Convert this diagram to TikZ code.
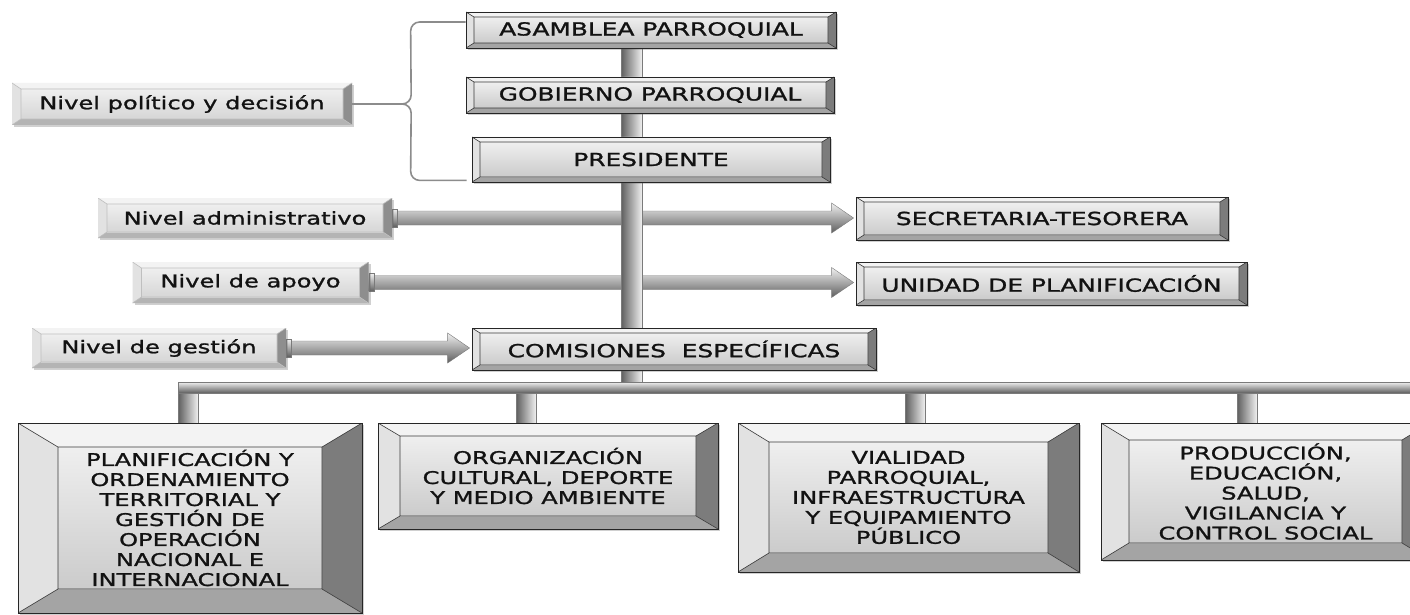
\documentclass[tikz,border=0pt]{standalone}
\usepackage{fontspec}
\setmainfont{DejaVu Sans}[FakeStretch=1.38,FakeBold=1.3]
\usetikzlibrary{calc,shadows}
\definecolor{txt}{HTML}{121212}
\definecolor{bvtop}{HTML}{F3F3F3}
\definecolor{bvleft}{HTML}{E2E2E2}
\definecolor{bvright}{HTML}{7C7C7C}
\definecolor{bvbot}{HTML}{A4A4A4}
\definecolor{facetop}{HTML}{EFEFEF}
\definecolor{facebot}{HTML}{CBCBCB}
\definecolor{bvline}{HTML}{3A3A3A}
\definecolor{sbvright}{HTML}{8E8E8E}
\definecolor{sbvbot}{HTML}{B4B4B4}
\definecolor{sfacebot}{HTML}{D6D6D6}
\definecolor{pipedark}{HTML}{5E5E5E}
\definecolor{pipelight}{HTML}{F0F0F0}
\definecolor{pipeline}{HTML}{7A7A7A}
\definecolor{bracecol}{HTML}{8C8C8C}
\pgfdeclarelayer{background}
\pgfdeclarelayer{arrows}
\pgfdeclarelayer{pipes}
\pgfsetlayers{background,arrows,pipes,main}
% #1 bx #2 by #3 top #4 left #5 right #6 bottom #7 facetop #8 facebot #9 line colour
\newcommand\bevpic[9]{%
  \path (path picture bounding box.north west) coordinate (q1)
        (path picture bounding box.north east) coordinate (q2)
        (path picture bounding box.south east) coordinate (q3)
        (path picture bounding box.south west) coordinate (q4);
  \path (q1) ++(#1pt,-#2pt) coordinate (i1)
        (q2) ++(-#1pt,-#2pt) coordinate (i2)
        (q3) ++(-#1pt,#2pt) coordinate (i3)
        (q4) ++(#1pt,#2pt) coordinate (i4);
  \fill[#3] (q1)--(q2)--(i2)--(i1)--cycle;
  \fill[#4] (q1)--(i1)--(i4)--(q4)--cycle;
  \fill[#5] (q2)--(q3)--(i3)--(i2)--cycle;
  \fill[#6] (q4)--(i4)--(i3)--(q3)--cycle;
  \shade[top color=#7,bottom color=#8] (i1) rectangle (i3);
  \draw[#9,line width=0.6pt] (q1)--(i1) (q2)--(i2) (q3)--(i3) (q4)--(i4) (i1) rectangle (i3);
}
\newcommand\bigarrow[2]{%
  \shadedraw[top color=pipelight,bottom color=pipedark,draw=pipeline,line width=0.4pt]
    let \p1=(#1.east), \p2=(#2.west) in
    (\x1+4pt,\y1+7pt) -- (\x2-24pt,\y1+7pt) -- (\x2-24pt,\y1+15pt) -- (\x2-2pt,\y1)
    -- (\x2-24pt,\y1-15pt) -- (\x2-24pt,\y1-7pt) -- (\x1+4pt,\y1-7pt) -- cycle;
  \shadedraw[top color=pipelight,bottom color=pipedark,draw=pipeline,line width=0.4pt]
    let \p1=(#1.east) in (\x1,\y1+9pt) rectangle (\x1+5pt,\y1-9pt);
}
\begin{document}
\begin{tikzpicture}[x=1pt,y=-1pt,
  base/.style={inner sep=0pt,text=txt,align=center},
  shad/.style={drop shadow={shadow xshift=2pt,shadow yshift=-2pt,opacity=.3,fill=black!60}},
  obox/.style 2 args={base,shad,draw=black!85,line width=0.8pt,
     path picture={\bevpic{#1}{#2}{bvtop}{bvleft}{bvright}{bvbot}{facetop}{facebot}{bvline}}},
  nbox/.style={base,shad,font=\fontsize{17.5}{20}\selectfont,
     path picture={\bevpic{9}{6}{bvtop}{bvleft}{sbvright}{sbvbot}{facetop}{sfacebot}{black!25}}},
  topf/.style={font=\fontsize{18}{20}\selectfont},
  botf/.style={font=\fontsize{17.5}{20}\selectfont},
  pipev/.style={left color=pipedark,right color=pipelight,draw=pipeline,line width=0.4pt},
  pipeh/.style={top color=pipelight,bottom color=pipedark,draw=pipeline,line width=0.4pt},
  brace/.style={draw=bracecol,line width=1.6pt,rounded corners=9pt}]
\useasboundingbox (0,0) rectangle (1410,615);
\begin{pgfonlayer}{background}
  \fill[white] (0,0) rectangle (1410,615);
\end{pgfonlayer}

% top column
\node[obox={8}{5},topf,minimum width=370pt,minimum height=36pt] (asamblea) at (651,30) {ASAMBLEA PARROQUIAL};
\node[obox={8}{5},topf,minimum width=368pt,minimum height=36pt] (gobierno) at (650,95) {GOBIERNO PARROQUIAL};
\node[obox={8}{5},topf,minimum width=358pt,minimum height=45pt] (presidente) at (651,159.5) {PRESIDENTE};

% levels
\node[nbox,minimum width=340pt,minimum height=42pt] (npol) at (182,104) {Nivel político y decisión};
\node[nbox,minimum width=294pt,minimum height=40pt] (nadm) at (245,218) {Nivel administrativo};
\node[nbox,minimum width=236pt,minimum height=41pt] (napo) at (250.5,282.5) {Nivel de apoyo};
\node[nbox,minimum width=254pt,minimum height=40pt] (nges) at (159,348) {Nivel de gestión};

% right side and commissions
\node[obox={8}{5},topf,minimum width=372pt,minimum height=43pt] (secre) at (1042,218.5) {SECRETARIA-TESORERA};
\node[obox={8}{5},topf,minimum width=391pt,minimum height=43pt] (unidad) at (1051.5,283.5) {UNIDAD DE PLANIFICACIÓN};
\node[obox={8}{5},topf,minimum width=404pt,minimum height=42pt] (comis) at (674,349) {COMISIONES\ \ ESPECÍFICAS};

% bottom boxes
\node[obox={40}{24},botf,minimum width=344pt,minimum height=190pt] (b1) at (190,518)
  {PLANIFICACIÓN Y\\ORDENAMIENTO\\TERRITORIAL Y\\GESTIÓN DE\\OPERACIÓN\\NACIONAL E\\INTERNACIONAL};
\node[obox={22}{13},botf,minimum width=340pt,minimum height=106pt] (b2) at (548,476)
  {ORGANIZACIÓN\\CULTURAL, DEPORTE\\Y MEDIO AMBIENTE};
\node[obox={31}{19},botf,minimum width=341pt,minimum height=149pt] (b3) at (908.5,497.5)
  {VIALIDAD\\PARROQUIAL,\\INFRAESTRUCTURA\\Y EQUIPAMIENTO\\PÚBLICO};
\node[obox={28}{17},botf,minimum width=329pt,minimum height=137pt] (b4) at (1265.5,491.5)
  {PRODUCCIÓN,\\EDUCACIÓN,\\SALUD,\\VIGILANCIA Y\\CONTROL SOCIAL};

% named points of the pipes
\coordinate (tk) at (631.5,388);
\coordinate (busL) at (178,382);
\coordinate (busR) at (1420,393);
\coordinate (d1) at (188,393);
\coordinate (d2) at (526,393);
\coordinate (d3) at (915,393);
\coordinate (d4) at (1247,393);

\begin{pgfonlayer}{arrows}
  \bigarrow{nadm}{secre}
  \bigarrow{napo}{unidad}
  \bigarrow{nges}{comis}
\end{pgfonlayer}

\begin{pgfonlayer}{pipes}
  \shadedraw[pipev] ($(tk |- asamblea.south)+(-10.5,0)$) rectangle ($(tk)+(10.5,5)$);
  \shadedraw[pipeh] (busL) rectangle (busR);
  \shadedraw[pipev] ($(d1)+(-10,0)$) rectangle ($(d1 |- b1.north)+(10,1)$);
  \shadedraw[pipev] ($(d2)+(-10,0)$) rectangle ($(d2 |- b2.north)+(10,1)$);
  \shadedraw[pipev] ($(d3)+(-10,0)$) rectangle ($(d3 |- b3.north)+(10,1)$);
  \shadedraw[pipev] ($(d4)+(-10,0)$) rectangle ($(d4 |- b4.north)+(10,1)$);
\end{pgfonlayer}

% brace of the political level
\draw[brace] ($(asamblea.west)+(0,-8)$) -- ($(asamblea.west)+(-55,-8)$) -- ($(npol.east)+(59,0)$) -- (npol.east);
\draw[brace] (npol.east) -- ($(npol.east)+(59,0)$) -- ($(presidente.south west)+(-61,-2)$) -- ($(presidente.south west)+(-5,-2)$);
\end{tikzpicture}
\end{document}
